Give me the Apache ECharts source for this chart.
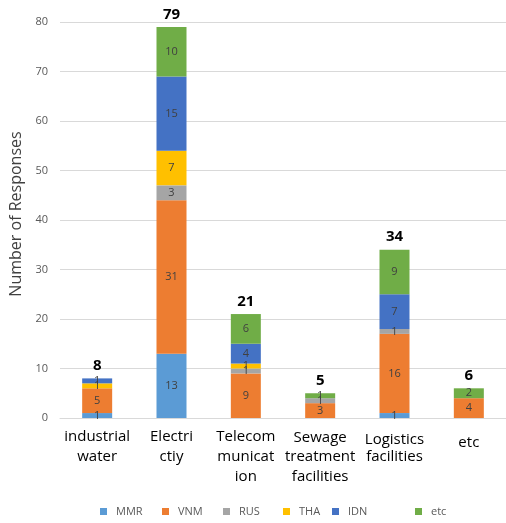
<!DOCTYPE html>
<html>
<head>
<meta charset="utf-8">
<script src="https://cdn.jsdelivr.net/npm/echarts@6/dist/echarts.min.js"></script>
<style>
  html, body { margin: 0; padding: 0; background: #ffffff; }
  #chart { width: 506px; height: 523px; }
</style>
</head>
<body>
<div id="chart"></div>
<script>
// Infrastructure needs by country, stacked responses per category
const categories = ['industrial\nwater', 'Electri\nctiy', 'Telecom\nmunicat\nion', 'Sewage\ntreatment\nfacilities', 'Logistics\nfacilities', 'etc'];
const seriesNames = ['MMR', 'VNM', 'RUS', 'THA', 'IDN', 'etc'];
const mmr = [1, 13, null, null, 1, null];
const vnm = [5, 31, 9, 3, 16, 4];
const rus = [null, 3, 1, 1, 1, null];
const tha = [1, 7, 1, null, null, null];
const idn = [1, 15, 4, null, 7, null];
const etcVals = [null, 10, 6, 1, 9, 2];
const yTicks = [0, 10, 20, 30, 40, 50, 60, 70, 80];

const colors = ['#5B9BD5', '#ED7D31', '#A5A5A5', '#FFC000', '#4472C4', '#70AD47'];
const values = [mmr, vnm, rus, tha, idn, etcVals];
const totals = categories.map((_, i) => values.reduce((s, arr) => s + (arr[i] || 0), 0));

const font = '"Open Sans", "Noto Sans", sans-serif';
const chart = echarts.init(document.getElementById('chart'));

const stacked = seriesNames.map((name, k) => ({
  name: name,
  type: 'bar',
  stack: 'total',
  barWidth: 30,
  itemStyle: { color: colors[k] },
  label: {
    show: true,
    position: 'inside',
    color: '#404040',
    fontSize: 11,
    fontFamily: font,
    formatter: p => (p.value ? p.value : '')
  },
  data: values[k]
}));

// Transparent overlay bar carrying the category totals
stacked.push({
  name: 'total',
  type: 'bar',
  barWidth: 30,
  barGap: '-100%',
  z: 0,
  itemStyle: { color: 'rgba(0,0,0,0)' },
  label: {
    show: true,
    position: 'top',
    distance: 5,
    color: '#000000',
    fontSize: 15,
    fontWeight: 'bold',
    fontFamily: font
  },
  data: totals
});

// Legend entries placed individually along the bottom
const legendLefts = [100, 162, 223, 283, 332, 415];
const legends = seriesNames.map((name, k) => ({
  data: [name],
  left: legendLefts[k],
  top: 506,
  padding: 0,
  icon: 'rect',
  itemWidth: 7,
  itemHeight: 7,
  selectedMode: false,
  textStyle: { color: '#595959', fontSize: 11, fontFamily: font, padding: [0, 0, 0, 4] }
}));

// Per-category first-line offsets for the axis labels
const firstPad = [0, 0, 0, 2, 5, 11];

chart.setOption({
  animation: false,
  backgroundColor: '#ffffff',
  color: colors,
  grid: { left: 60, top: 22, width: 447, bottom: 105 },
  legend: legends,
  xAxis: {
    type: 'category',
    data: categories,
    axisTick: { show: false },
    axisLine: { show: true, lineStyle: { color: '#d9d9d9', width: 1 } },
    axisLabel: {
      margin: 9,
      interval: 0,
      color: '#000000',
      fontSize: 15,
      lineHeight: 20,
      fontFamily: font,
      formatter: (val, idx) => {
        const lines = val.split('\n');
        return lines.map((l, j) => (j === 0 ? '{p' + idx + '|' + l + '}' : '{n|' + l + '}')).join('\n');
      },
      rich: Object.assign(
        { n: { fontSize: 15, lineHeight: 20, color: '#000000', fontFamily: font } },
        ...firstPad.map((p, i) => ({ ['p' + i]: { fontSize: 15, lineHeight: 20, color: '#000000', fontFamily: font, padding: [p, 0, 0, 0] } }))
      )
    }
  },
  yAxis: {
    type: 'value',
    min: yTicks[0],
    max: yTicks[yTicks.length - 1],
    interval: yTicks[1] - yTicks[0],
    name: 'Number of Responses',
    nameLocation: 'middle',
    nameRotate: 90,
    nameGap: 36,
    nameTextStyle: { color: '#404040', fontSize: 16, fontFamily: font, padding: [0, 0, 0, 12] },
    axisLine: { show: false },
    axisTick: { show: false },
    axisLabel: { color: '#595959', fontSize: 11, margin: 12, fontFamily: font },
    splitLine: { lineStyle: { color: '#d9d9d9', width: 1 } }
  },
  series: stacked
});
</script>
</body>
</html>
